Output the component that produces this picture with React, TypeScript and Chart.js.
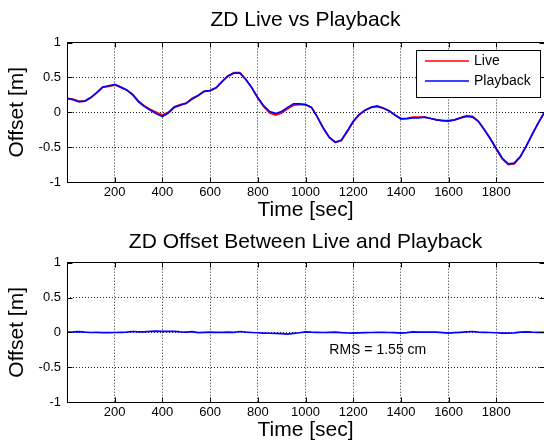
import React, { useEffect, useRef } from "react";
import { Chart, registerables } from "chart.js";

Chart.register(...registerables);

const FONT = '"Liberation Sans", Arial, Helvetica, sans-serif';
Chart.defaults.font.family = FONT;
Chart.defaults.color = "#000";

const timeSec = [
  0, 25, 50, 75, 100, 125, 150, 175, 200, 225, 250, 275, 300, 325, 350, 375, 400,
  425, 450, 475, 500, 525, 550, 575, 600, 625, 650, 675, 700, 725, 750, 775, 800,
  825, 850, 875, 900, 925, 950, 975, 1000, 1025, 1050, 1075, 1100, 1125, 1150, 1175, 1200,
  1225, 1250, 1275, 1300, 1325, 1350, 1375, 1400, 1425, 1450, 1475, 1500, 1525, 1550, 1575, 1600,
  1625, 1650, 1675, 1700, 1725, 1750, 1775, 1800, 1825, 1850, 1875, 1900, 1925, 1950, 1975, 2000,
];

const liveOffset = [
  0.2, 0.19, 0.16, 0.16, 0.21, 0.28, 0.36, 0.37, 0.39, 0.36, 0.32, 0.26, 0.16, 0.09, 0.04, 0.0, -0.04,
  0.0, 0.08, 0.11, 0.13, 0.2, 0.24, 0.3, 0.31, 0.35, 0.44, 0.52, 0.57, 0.57, 0.47, 0.35, 0.2,
  0.08, -0.01, -0.04, -0.01, 0.05, 0.1, 0.11, 0.11, 0.07, -0.07, -0.23, -0.36, -0.43, -0.41, -0.28, -0.14,
  -0.04, 0.03, 0.07, 0.08, 0.06, 0.02, -0.04, -0.1, -0.09, -0.07, -0.07, -0.07, -0.09, -0.11, -0.12, -0.13,
  -0.11, -0.08, -0.05, -0.06, -0.13, -0.25, -0.38, -0.53, -0.67, -0.75, -0.74, -0.64, -0.49, -0.32, -0.16, -0.01,
];

const playbackOffset = [
  0.2, 0.18, 0.15, 0.16, 0.21, 0.28, 0.36, 0.38, 0.4, 0.36, 0.32, 0.25, 0.15, 0.08, 0.03, -0.02, -0.06,
  -0.01, 0.07, 0.1, 0.13, 0.19, 0.24, 0.3, 0.31, 0.35, 0.44, 0.52, 0.56, 0.56, 0.47, 0.35, 0.21,
  0.09, 0.01, -0.02, 0.01, 0.07, 0.12, 0.12, 0.11, 0.07, -0.07, -0.23, -0.36, -0.43, -0.4, -0.27, -0.13,
  -0.03, 0.03, 0.07, 0.09, 0.06, 0.02, -0.04, -0.09, -0.09, -0.08, -0.08, -0.07, -0.09, -0.11, -0.12, -0.12,
  -0.11, -0.08, -0.06, -0.07, -0.13, -0.25, -0.38, -0.52, -0.66, -0.74, -0.73, -0.64, -0.49, -0.32, -0.16, -0.01,
];

const diffOffset = [
  0.004, 0.006, 0.01, 0.003, -0.002, 0.001, -0.003, -0.004, -0.002, 0.001, 0.003, 0.012, 0.006, 0.008, 0.014, 0.018, 0.015,
  0.014, 0.013, 0.006, 0.004, 0.009, -0.003, -0.001, 0.002, 0.001, -0.001, 0.003, 0.001, 0.012, 0.002, -0.002, -0.006,
  -0.01, -0.013, -0.016, -0.018, -0.024, -0.014, -0.006, 0.006, 0.002, 0.001, -0.002, 0.0, 0.003, -0.004, -0.009, -0.012,
  -0.007, -0.004, -0.002, -0.001, 0.001, -0.002, -0.004, -0.01, -0.004, 0.008, 0.004, 0.005, 0.003, 0.002, -0.004, -0.01,
  -0.004, 0.001, 0.006, 0.012, 0.002, 0.0, -0.002, -0.006, -0.01, -0.011, -0.007, 0.004, 0.006, 0.002, 0.0, 0.001,
];

const xTickValues = [200, 400, 600, 800, 1000, 1200, 1400, 1600, 1800];
const yTickValues = [-1, -0.5, 0, 0.5, 1];
const xRange = [0, 2000];
const yRange = [-1, 1];
const seriesLabels = ["Live", "Playback"];
const seriesColors = ["#ff0000", "#0000ff"];
const diffColor = "#0000ff";
const topTitle = "ZD Live vs Playback";
const bottomTitle = "ZD Offset Between Live and Playback";
const xTitle = "Time [sec]";
const yTitle = "Offset [m]";
const rmsText = "RMS = 1.55 cm";
const rmsAt = [1100, -0.26];

const toPoints = (ys: number[]) => ys.map((y, i) => ({ x: timeSec[i], y }));

const boxPlugin = {
  id: "matlabBox",
  afterDraw(chart: any) {
    const { ctx, chartArea } = chart;
    const xs = chart.scales.x;
    const ys = chart.scales.y;
    const l = Math.floor(chartArea.left) + 0.5;
    const r = Math.floor(chartArea.right) + 0.5;
    const t = Math.floor(chartArea.top) + 0.5;
    const b = Math.floor(chartArea.bottom) + 0.5;
    ctx.save();
    ctx.strokeStyle = "#000";
    ctx.lineWidth = 1;
    ctx.setLineDash([]);
    ctx.strokeRect(l, t, r - l, b - t);
    ctx.beginPath();
    xTickValues.forEach((v) => {
      const px = Math.round(xs.getPixelForValue(v)) + 0.5;
      ctx.moveTo(px, b);
      ctx.lineTo(px, b - 5);
      ctx.moveTo(px, t);
      ctx.lineTo(px, t + 5);
    });
    yTickValues.forEach((v) => {
      const py = Math.round(ys.getPixelForValue(v)) + 0.5;
      ctx.moveTo(l, py);
      ctx.lineTo(l + 5, py);
      ctx.moveTo(r, py);
      ctx.lineTo(r - 5, py);
    });
    ctx.stroke();
    ctx.restore();
  },
};

const makeTitlePlugin = (text: string, cy: number) => ({
  id: "axesTitle",
  afterDraw(chart: any) {
    const { ctx, chartArea } = chart;
    ctx.save();
    ctx.font = `21px ${FONT}`;
    ctx.fillStyle = "#000";
    ctx.textAlign = "center";
    ctx.textBaseline = "middle";
    ctx.fillText(text, (chartArea.left + chartArea.right) / 2, cy);
    ctx.restore();
  },
});

const legendPlugin = {
  id: "matlabLegend",
  afterDraw(chart: any) {
    const { ctx } = chart;
    const bx = 416.5;
    const by = 50.5;
    const bw = 124;
    const bh = 47;
    ctx.save();
    ctx.fillStyle = "#fff";
    ctx.fillRect(bx, by, bw, bh);
    ctx.strokeStyle = "#000";
    ctx.lineWidth = 1;
    ctx.strokeRect(bx, by, bw, bh);
    ctx.font = `14px ${FONT}`;
    ctx.textBaseline = "middle";
    ctx.textAlign = "left";
    chart.data.datasets.forEach((ds: any, i: number) => {
      const ly = 61 + i * 20;
      ctx.strokeStyle = ds.borderColor;
      ctx.lineWidth = 1.5;
      ctx.beginPath();
      ctx.moveTo(425, ly);
      ctx.lineTo(469, ly);
      ctx.stroke();
      ctx.fillStyle = "#000";
      ctx.fillText(ds.label, 474, ly);
    });
    ctx.restore();
  },
};

const rmsPlugin = {
  id: "rmsNote",
  afterDatasetsDraw(chart: any) {
    const { ctx } = chart;
    const px = chart.scales.x.getPixelForValue(rmsAt[0]);
    const py = chart.scales.y.getPixelForValue(rmsAt[1]);
    ctx.save();
    ctx.font = `14px ${FONT}`;
    ctx.fillStyle = "#000";
    ctx.textAlign = "left";
    ctx.textBaseline = "middle";
    ctx.fillText(rmsText, px, py);
    ctx.restore();
  },
};

function makeConfig(opts: {
  datasets: any[];
  padTop: number;
  xAxisHeight: number;
  xTitlePadBottom: number;
  plugins: any[];
}) {
  return {
    type: "line" as const,
    data: { datasets: opts.datasets },
    plugins: opts.plugins,
    options: {
      responsive: false,
      animation: false as const,
      devicePixelRatio: 1,
      layout: { padding: { left: 0, right: -3, top: opts.padTop, bottom: 0 } },
      elements: { point: { radius: 0 }, line: { tension: 0 } },
      plugins: {
        legend: { display: false },
        tooltip: { enabled: false },
        title: { display: false },
      },
      scales: {
        x: {
          type: "linear" as const,
          min: xRange[0],
          max: xRange[1],
          afterBuildTicks: (s: any) => {
            s.ticks = xTickValues.map((v) => ({ value: v }));
          },
          afterFit: (s: any) => {
            s.height = opts.xAxisHeight;
          },
          ticks: {
            autoSkip: false,
            maxRotation: 0,
            padding: 3,
            color: "#000",
            font: { size: 13, family: FONT },
            callback: (v: any) => String(v),
          },
          grid: { color: "rgba(0,0,0,0.85)", lineWidth: 1, drawTicks: false },
          border: { display: false, dash: [1, 2] },
          title: {
            display: true,
            text: xTitle,
            color: "#000",
            font: { size: 21, family: FONT },
            padding: { top: 0, bottom: opts.xTitlePadBottom },
          },
        },
        y: {
          type: "linear" as const,
          min: yRange[0],
          max: yRange[1],
          afterBuildTicks: (s: any) => {
            s.ticks = yTickValues.map((v) => ({ value: v }));
          },
          afterFit: (s: any) => {
            s.width = 67;
          },
          ticks: {
            padding: 6,
            color: "#000",
            font: { size: 13, family: FONT },
            callback: (v: any) => String(v),
          },
          grid: {
            color: (c: any) =>
              c.tick && Math.abs(c.tick.value) === 1 ? "rgba(0,0,0,0)" : "rgba(0,0,0,0.85)",
            lineWidth: 1,
            drawTicks: false,
          },
          border: { display: false, dash: [1, 2] },
          title: {
            display: true,
            text: yTitle,
            color: "#000",
            font: { size: 21, family: FONT },
            padding: { top: 5, bottom: 0 },
          },
        },
      },
    },
  };
}

function Panel({ config, top, height }: { config: () => any; top: number; height: number }) {
  const ref = useRef<HTMLCanvasElement | null>(null);
  useEffect(() => {
    if (!ref.current) return;
    const chart = new Chart(ref.current, config());
    return () => chart.destroy();
  }, []);
  return (
    <canvas
      ref={ref}
      width={544}
      height={height}
      style={{ position: "absolute", left: 0, top, width: 544, height, display: "block" }}
    />
  );
}

export default function App() {
  const topConfig = () =>
    makeConfig({
      datasets: [
        {
          label: seriesLabels[0],
          data: toPoints(liveOffset),
          borderColor: seriesColors[0],
          borderWidth: 1.7,
          order: 1,
        },
        {
          label: seriesLabels[1],
          data: toPoints(playbackOffset),
          borderColor: seriesColors[1],
          borderWidth: 1.7,
          order: 0,
        },
      ],
      padTop: 42.5,
      xAxisHeight: 41,
      xTitlePadBottom: 0,
      plugins: [boxPlugin, legendPlugin, makeTitlePlugin(topTitle, 20)],
    });

  const bottomConfig = () =>
    makeConfig({
      datasets: [
        {
          label: "Difference",
          data: toPoints(diffOffset),
          borderColor: diffColor,
          borderWidth: 1.7,
        },
      ],
      padTop: 42.7,
      xAxisHeight: 44,
      xTitlePadBottom: 3.3,
      plugins: [boxPlugin, rmsPlugin, makeTitlePlugin(bottomTitle, 22.5)],
    });

  return (
    <div
      style={{
        position: "fixed",
        left: 0,
        top: 0,
        width: 544,
        height: 446,
        background: "#fff",
        overflow: "hidden",
      }}
    >
      <Panel config={topConfig} top={0} height={223} />
      <Panel config={bottomConfig} top={220} height={226} />
    </div>
  );
}
